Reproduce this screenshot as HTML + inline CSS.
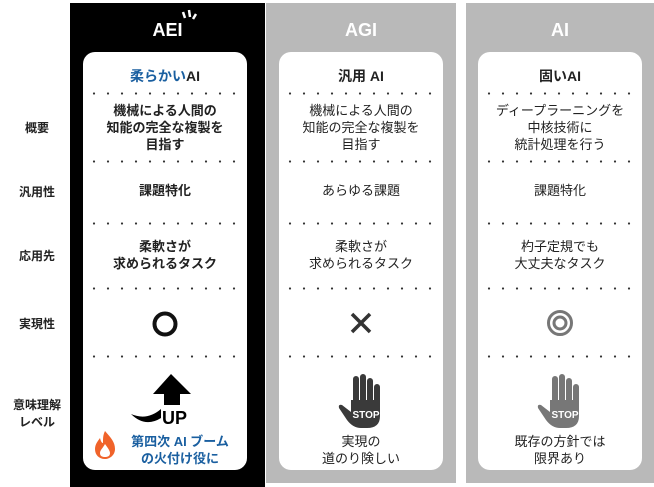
<!DOCTYPE html>
<html><head><meta charset="utf-8">
<style>
*{margin:0;padding:0;box-sizing:border-box}
body{width:654px;height:487px;background:#fff;position:relative;overflow:hidden;font-family:"Liberation Sans","Noto Sans CJK JP",sans-serif;color:#222}
.col{position:absolute;top:3px;}
.card{position:absolute;top:52px;height:418px;background:#fff;border-radius:12px}
.t{position:absolute;left:0;right:0;text-align:center;font-size:13px;line-height:17px}
.h{position:absolute;left:0;right:0;text-align:center;font-size:18px;font-weight:bold;color:#fff;top:20px}
.dots{position:absolute;left:4px;right:4px;height:3px;background:radial-gradient(circle,#333 0.9px,transparent 1.3px) 0 0/14px 3px repeat-x}
.lab{position:absolute;left:2px;width:70px;text-align:center;font-size:12px;font-weight:bold;line-height:17px}
</style></head><body>
<div class="lab" style="top:120px">概要</div>
<div class="lab" style="top:184px">汎用性</div>
<div class="lab" style="top:248px">応用先</div>
<div class="lab" style="top:316px">実現性</div>
<div class="lab" style="top:397px">意味理解<br>レベル</div>

<div class="col" style="left:70px;width:195px;height:484px;background:#000"></div>
<div class="h" style="left:70px;width:195px">AEI</div>
<svg style="position:absolute;left:180px;top:8px" width="22" height="16"><g stroke="#fff" stroke-width="2.5"><line x1="3" y1="4" x2="5" y2="10"/><line x1="9" y1="2" x2="10" y2="9"/><line x1="16" y1="6" x2="13" y2="11"/></g></svg>
<div class="card" style="left:83px;width:164px">
 <div class="t" style="top:16px;font-weight:bold;font-size:14px"><span style="color:#1a5fa0">柔らかい</span>AI</div>
 <div class="dots" style="top:40px"></div>
 <div class="t" style="top:50px;font-weight:bold">機械による人間の<br>知能の完全な複製を<br>目指す</div>
 <div class="dots" style="top:108px"></div>
 <div class="t" style="top:130px;font-weight:bold">課題特化</div>
 <div class="dots" style="top:170px"></div>
 <div class="t" style="top:186px;font-weight:bold">柔軟さが<br>求められるタスク</div>
 <div class="dots" style="top:235px"></div>
 <svg style="position:absolute;left:68px;top:258px" width="28" height="28"><circle cx="14" cy="14" r="10.5" fill="none" stroke="#111" stroke-width="4"/></svg>
 <div class="dots" style="top:303px"></div>
 <svg style="position:absolute;left:46px;top:322px" width="76" height="52"><polygon points="42,0 62,20 51,20 51,31 35,31 35,20 24,20" fill="#000"/><path d="M2,40 Q18,47 32,35 L32,44 Q16,54 2,40Z" fill="#000"/><text x="33" y="50" font-family="Liberation Sans" font-weight="bold" font-size="18" fill="#000">UP</text></svg>
 <svg style="position:absolute;left:10px;top:378px" width="24" height="30"><path d="M12,1 C18,8 22,12 22,19 C22,25 17,29 12,29 C6,29 2,25 2,19 C2,14 5,11 7,8 C8,12 9,13 10,13 C10,8 10,5 12,1Z" fill="#f0632a"/><path d="M12,14 C15,18 17,21 17,23 C17,26 15,27 12,27 C9,27 7,26 7,23 C7,20 10,18 12,14Z" fill="#fff"/></svg>
 <div class="t" style="top:381px;left:30px;font-weight:bold;color:#1a5fa0;font-size:13px">第四次 AI ブーム<br>の火付け役に</div>
</div>

<div class="col" style="left:266px;width:190px;height:480px;background:#b9b9b9"></div>
<div class="h" style="left:266px;width:190px">AGI</div>
<div class="card" style="left:279px;width:164px">
 <div class="t" style="top:16px;font-weight:bold;font-size:14px">汎用 AI</div>
 <div class="dots" style="top:40px"></div>
 <div class="t" style="top:50px">機械による人間の<br>知能の完全な複製を<br>目指す</div>
 <div class="dots" style="top:108px"></div>
 <div class="t" style="top:130px">あらゆる課題</div>
 <div class="dots" style="top:170px"></div>
 <div class="t" style="top:186px">柔軟さが<br>求められるタスク</div>
 <div class="dots" style="top:235px"></div>
 <svg style="position:absolute;left:70px;top:259px" width="24" height="24"><g stroke="#333" stroke-width="3.5"><line x1="3" y1="3" x2="21" y2="21"/><line x1="21" y1="3" x2="3" y2="21"/></g></svg>
 <div class="dots" style="top:303px"></div>
 <svg style="position:absolute;left:58px;top:322px" width="48" height="56"><g fill="#3a3a3a"><rect x="16" y="2" width="6" height="30" rx="3"/><rect x="23" y="0" width="6" height="32" rx="3"/><rect x="30" y="4" width="6" height="28" rx="3"/><rect x="37" y="10" width="6" height="24" rx="3"/><path d="M14,26 L43,26 L43,42 Q43,54 30,54 L24,54 Q16,54 10,46 L2,34 Q1,30 5,31 L14,38Z"/></g><text x="29" y="44" text-anchor="middle" font-family="Liberation Sans" font-weight="bold" font-size="10" fill="#fff">STOP</text></svg>
 <div class="t" style="top:381px">実現の<br>道のり険しい</div>
</div>

<div class="col" style="left:466px;width:188px;height:480px;background:#b9b9b9"></div>
<div class="h" style="left:466px;width:188px">AI</div>
<div class="card" style="left:478px;width:164px">
 <div class="t" style="top:16px;font-weight:bold;font-size:14px">固いAI</div>
 <div class="dots" style="top:40px"></div>
 <div class="t" style="top:50px">ディープラーニングを<br>中核技術に<br>統計処理を行う</div>
 <div class="dots" style="top:108px"></div>
 <div class="t" style="top:130px">課題特化</div>
 <div class="dots" style="top:170px"></div>
 <div class="t" style="top:186px">杓子定規でも<br>大丈夫なタスク</div>
 <div class="dots" style="top:235px"></div>
 <svg style="position:absolute;left:68px;top:257px" width="28" height="28"><circle cx="14" cy="14" r="11.5" fill="none" stroke="#777" stroke-width="3"/><circle cx="14" cy="14" r="6" fill="none" stroke="#777" stroke-width="3"/></svg>
 <div class="dots" style="top:303px"></div>
 <svg style="position:absolute;left:58px;top:322px" width="48" height="56"><g fill="#777"><rect x="16" y="2" width="6" height="30" rx="3"/><rect x="23" y="0" width="6" height="32" rx="3"/><rect x="30" y="4" width="6" height="28" rx="3"/><rect x="37" y="10" width="6" height="24" rx="3"/><path d="M14,26 L43,26 L43,42 Q43,54 30,54 L24,54 Q16,54 10,46 L2,34 Q1,30 5,31 L14,38Z"/></g><text x="29" y="44" text-anchor="middle" font-family="Liberation Sans" font-weight="bold" font-size="10" fill="#fff">STOP</text></svg>
 <div class="t" style="top:381px">既存の方針では<br>限界あり</div>
</div>
</body></html>
